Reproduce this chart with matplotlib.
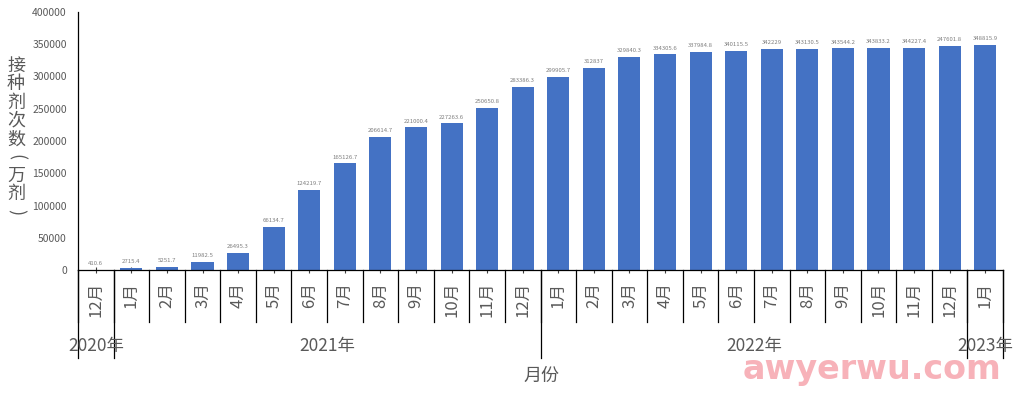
import matplotlib
matplotlib.use("Agg")
import matplotlib.pyplot as plt
from matplotlib.transforms import blended_transform_factory
from matplotlib.lines import Line2D

plt.rcParams['font.family'] = ['Noto Sans CJK SC', 'DejaVu Sans']

months = ["12月", "1月", "2月", "3月", "4月", "5月", "6月", "7月", "8月", "9月", "10月", "11月", "12月",
          "1月", "2月", "3月", "4月", "5月", "6月", "7月", "8月", "9月", "10月", "11月", "12月", "1月"]
values = [410.6, 2715.4, 5251.7, 11982.5, 26495.3, 66134.7, 124219.7, 165126.7, 206614.7,
          221000.4, 227263.6, 250650.8, 283386.3, 299905.7, 312837, 329840.3, 334305.6,
          337984.8, 340115.5, 342229, 343130.5, 343544.2, 343833.2, 344227.4, 347601.8, 348815.9]
value_labels = ["410.6", "2715.4", "5251.7", "11982.5", "26495.3", "66134.7", "124219.7", "165126.7",
                "206614.7", "221000.4", "227263.6", "250650.8", "283386.3", "299905.7", "312837",
                "329840.3", "334305.6", "337984.8", "340115.5", "342229", "343130.5", "343544.2",
                "343833.2", "344227.4", "247601.8", "348815.9"]
years = ["2020年", "2021年", "2022年", "2023年"]
year_counts = [1, 12, 12, 1]
yticks = [0, 50000, 100000, 150000, 200000, 250000, 300000, 350000, 400000]
ylabel_chars = ["接", "种", "剂", "次", "数", "(", "万", "剂", ")"]

W, H = 1025, 400
fig = plt.figure(figsize=(W / 100, H / 100), dpi=100)
left, right, top, bottom = 78, 1003, 12, 270
ax = fig.add_axes([left / W, 1 - bottom / H, (right - left) / W, (bottom - top) / H])

n = len(values)
x = list(range(n))
ax.bar(x, values, width=0.62, color="#4472C4", zorder=2)
ax.set_xlim(-0.5, n - 0.5)
ax.set_ylim(0, 400000)

gray = "#595959"
for xi, v, lab in zip(x, values, value_labels):
    ax.text(xi, v + 6000, lab, ha="center", va="bottom", fontsize=4.3, color="#7f7f7f")

ax.set_yticks(yticks)
ax.set_yticklabels([str(t) for t in yticks], fontsize=7.5, color=gray)
ax.tick_params(axis="y", length=0, pad=8)
ax.set_xticks(x)
ax.set_xticklabels([])
ax.tick_params(axis="x", direction="inout", length=5, width=0.8, color="#404040")

for s in ["top", "right"]:
    ax.spines[s].set_visible(False)
ax.spines["left"].set_color("#000000")
ax.spines["bottom"].set_color("#000000")
ax.spines["left"].set_linewidth(0.9)
ax.spines["bottom"].set_linewidth(0.9)

tr = blended_transform_factory(ax.transData, ax.transAxes)
ph = bottom - top
month_y = -(322 - bottom) / ph
year_y = -(358 - bottom) / ph

for b in range(n + 1):
    ax.add_line(Line2D([b - 0.5, b - 0.5], [0, month_y], transform=tr, color="black",
                       lw=0.9, clip_on=False))
for xi, m in zip(x, months):
    ax.text(xi, -(282 - bottom) / ph, m, transform=tr, rotation=90, ha="center", va="top",
            fontsize=12, color=gray)

start = 0
bounds = [0]
for c in year_counts:
    start += c
    bounds.append(start)
for b in bounds:
    ax.add_line(Line2D([b - 0.5, b - 0.5], [0, year_y], transform=tr, color="black",
                       lw=0.9, clip_on=False))
for i, yl in enumerate(years):
    cx = (bounds[i] + bounds[i + 1]) / 2 - 0.5
    ax.text(cx, -(346 - bottom) / ph, yl, transform=tr, ha="center", va="center",
            fontsize=12.5, color=gray)

fig.text(541 / W, 1 - 376 / H, "月份", ha="center", va="center", fontsize=13, color=gray)

y0, step = 66, 18.3
for i, ch in enumerate(ylabel_chars):
    rot = -90 if ch in "()" else 0
    fig.text(16 / W, 1 - (y0 + i * step) / H, ch, ha="center", va="center", rotation=rot,
             fontsize=13, color=gray)

fig.text(872 / W, 1 - 370 / H, "awyerwu.com", ha="center", va="center", fontsize=24,
         color="#f6a5ad", alpha=0.85, fontweight="bold", family=["DejaVu Sans"])

fig.savefig("out.png", dpi=100)
